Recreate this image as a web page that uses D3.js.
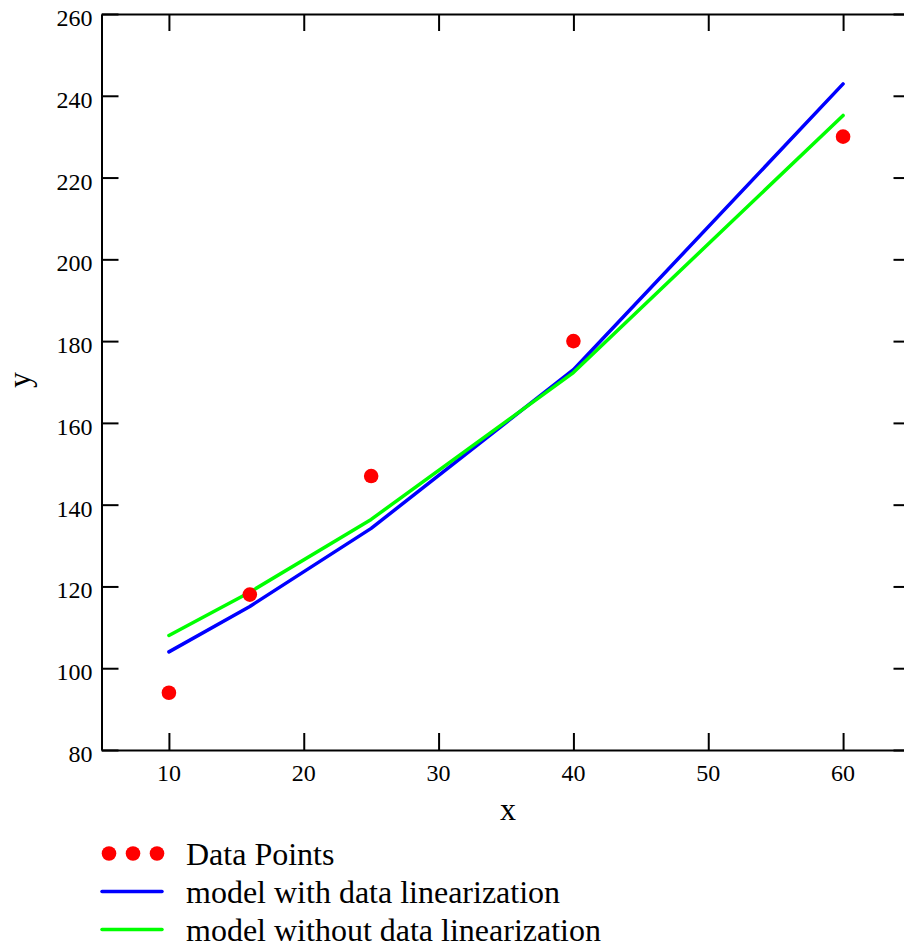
<!DOCTYPE html>
<html><head><meta charset="utf-8">
<script src="https://cdn.jsdelivr.net/npm/d3@7"></script>
<style>body{margin:0;background:#fff;} svg{display:block;} text{font-family:'Liberation Serif','Times New Roman',serif;}</style>
</head><body>
<script>
const xValues = [10, 16, 25, 40, 60];
const dataPoints = [94, 118, 147, 180, 230];
const modelLinearized = [104, 115.1, 134.2, 173.0, 242.9];
const modelNonlinear = [108, 118.6, 136.4, 172.3, 235.2];
const xTicks = [10, 20, 30, 40, 50, 60];
const yTicks = [80, 100, 120, 140, 160, 180, 200, 220, 240, 260];
const legendLabels = ["Data Points", "model with data linearization", "model without data linearization"];

(function () {
const W = 904, H = 950;
const svg = d3.select("body").append("svg").attr("width", W).attr("height", H);

const x = d3.scaleLinear().domain([5, 65]).range([101.5, 910.5]);
const y = d3.scaleLinear().domain([80, 260]).range([750, 14]);
const tickLen = 17;

const axBottom = svg.append("g").attr("transform", `translate(0,${y(80)})`)
  .call(d3.axisBottom(x).tickValues(xTicks).tickSize(-tickLen).tickSizeOuter(0).tickFormat(""));
const axTop = svg.append("g").attr("transform", `translate(0,${y(260)})`)
  .call(d3.axisTop(x).tickValues(xTicks).tickSize(-tickLen).tickSizeOuter(0).tickFormat(""));
const axLeft = svg.append("g").attr("transform", `translate(${x(5)},0)`)
  .call(d3.axisLeft(y).tickValues(yTicks).tickSize(-tickLen).tickSizeOuter(0).tickFormat(""));
const axRight = svg.append("g").attr("transform", `translate(${x(65)},0)`)
  .call(d3.axisRight(y).tickValues(yTicks).tickSize(-tickLen).tickSizeOuter(0).tickFormat(""));

[axBottom, axTop, axLeft, axRight].forEach(g => {
  g.selectAll("path.domain").attr("stroke", "#000").attr("stroke-width", 2);
  g.selectAll(".tick line").attr("stroke", "#000").attr("stroke-width", 2);
  g.selectAll(".tick text").remove();
});

// tick labels
svg.append("g").selectAll("text").data(xTicks).join("text")
  .attr("x", d => x(d)).attr("y", y(80) + 31).attr("text-anchor", "middle")
  .attr("font-size", 24).attr("fill", "#000").text(d => d);
svg.append("g").selectAll("text").data(yTicks).join("text")
  .attr("x", x(5) - 9).attr("y", d => y(d) + 12).attr("text-anchor", "end")
  .attr("font-size", 24).attr("fill", "#000").text(d => d);

svg.append("text").attr("x", 508).attr("y", 820).attr("text-anchor", "middle")
  .attr("font-size", 32).text("x");
svg.append("text").attr("transform", "translate(30,380) rotate(-90)").attr("text-anchor", "middle")
  .attr("font-size", 32).text("y");

const line = d3.line().x((d, i) => x(xValues[i])).y(d => y(d));
svg.append("path").datum(modelLinearized).attr("d", line)
  .attr("fill", "none").attr("stroke", "#0000ff").attr("stroke-width", 3.5).attr("stroke-linecap", "round").attr("stroke-linejoin", "round");
svg.append("path").datum(modelNonlinear).attr("d", line)
  .attr("fill", "none").attr("stroke", "#00ff00").attr("stroke-width", 3.5).attr("stroke-linecap", "round").attr("stroke-linejoin", "round");

svg.append("g").selectAll("circle").data(dataPoints).join("circle")
  .attr("cx", (d, i) => x(xValues[i])).attr("cy", d => y(d)).attr("r", 7.3).attr("fill", "#ff0000");

const lg = svg.append("g");
[109, 133, 157].forEach(cx => lg.append("circle").attr("cx", cx).attr("cy", 853.5).attr("r", 7.3).attr("fill", "#ff0000"));
lg.append("line").attr("x1", 102).attr("x2", 162).attr("y1", 891.5).attr("y2", 891.5)
  .attr("stroke", "#0000ff").attr("stroke-width", 3.5).attr("stroke-linecap", "round");
lg.append("line").attr("x1", 102).attr("x2", 162).attr("y1", 929.5).attr("y2", 929.5)
  .attr("stroke", "#00ff00").attr("stroke-width", 3.5).attr("stroke-linecap", "round");
const ly = [865, 903, 941];
legendLabels.forEach((t, i) => lg.append("text").attr("x", 186).attr("y", ly[i])
  .attr("font-size", 32).attr("fill", "#000").text(t));
})();
</script>
</body></html>
